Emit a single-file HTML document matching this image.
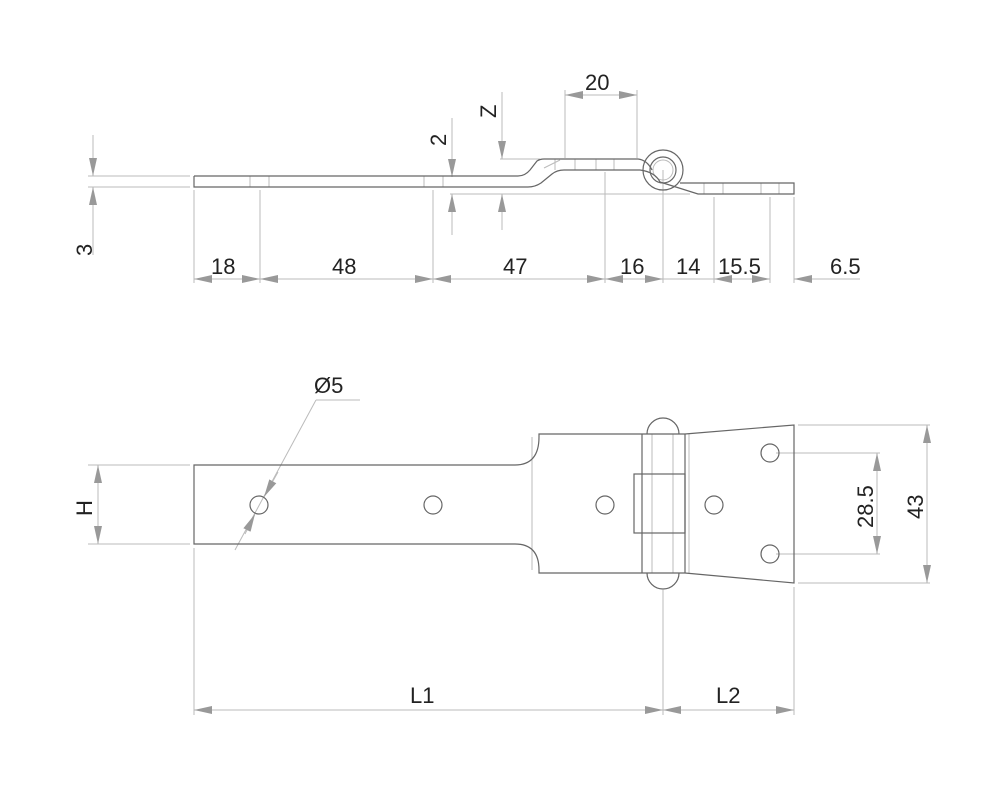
<!DOCTYPE html>
<html><head><style>body{margin:0;background:#fff}svg{display:block}text{font-family:"Liberation Sans",sans-serif;font-size:22px;fill:#222}</style></head><body>
<svg width="1000" height="786" viewBox="0 0 1000 786" xmlns="http://www.w3.org/2000/svg">
<defs>
<marker id="a" viewBox="0 0 18 8" refX="18" refY="4" markerWidth="18" markerHeight="8" markerUnits="userSpaceOnUse" orient="auto-start-reverse"><path d="M0,0L18,4L0,8z" fill="#999"/></marker>
</defs>
<g stroke="#bbb" stroke-width="1" fill="none">
<line x1="88" y1="176" x2="190" y2="176"/><line x1="88" y1="187" x2="190" y2="187"/>
<line x1="194" y1="190" x2="194" y2="283"/><line x1="260" y1="190" x2="260" y2="283"/>
<line x1="433" y1="190" x2="433" y2="283"/><line x1="605" y1="172" x2="605" y2="283"/>
<line x1="663" y1="170" x2="663" y2="283"/><line x1="714" y1="197" x2="714" y2="283"/>
<line x1="770" y1="197" x2="770" y2="283"/><line x1="794" y1="197" x2="794" y2="283"/>
<line x1="450" y1="194" x2="690" y2="194"/><line x1="500" y1="159" x2="540" y2="159"/>
<line x1="565" y1="90" x2="565" y2="158"/><line x1="637" y1="90" x2="637" y2="158"/>
<line x1="93" y1="135" x2="93" y2="176" marker-end="url(#a)"/>
<line x1="93" y1="255" x2="93" y2="187" marker-end="url(#a)"/>
<line x1="452" y1="118" x2="452" y2="177" marker-end="url(#a)"/>
<line x1="452" y1="235" x2="452" y2="194" marker-end="url(#a)"/>
<line x1="502" y1="92" x2="502" y2="159" marker-end="url(#a)"/>
<line x1="502" y1="230" x2="502" y2="194" marker-end="url(#a)"/>
<line x1="565" y1="95" x2="637" y2="95" marker-start="url(#a)" marker-end="url(#a)"/>
<line x1="194" y1="279" x2="260" y2="279" marker-start="url(#a)" marker-end="url(#a)"/>
<line x1="260" y1="279" x2="433" y2="279" marker-start="url(#a)" marker-end="url(#a)"/>
<line x1="433" y1="279" x2="605" y2="279" marker-start="url(#a)" marker-end="url(#a)"/>
<line x1="605" y1="279" x2="663" y2="279" marker-start="url(#a)" marker-end="url(#a)"/>
<line x1="663" y1="279" x2="714" y2="279"/>
<line x1="714" y1="279" x2="770" y2="279" marker-start="url(#a)" marker-end="url(#a)"/>
<line x1="860" y1="279" x2="794" y2="279" marker-end="url(#a)"/>
<line x1="250" y1="176" x2="250" y2="187"/><line x1="269" y1="176" x2="269" y2="187"/>
<line x1="424" y1="176" x2="424" y2="187"/><line x1="443" y1="176" x2="443" y2="187"/>
<line x1="596" y1="159" x2="596" y2="170"/><line x1="614" y1="159" x2="614" y2="170"/>
<line x1="555" y1="159" x2="555" y2="170"/><line x1="575" y1="159" x2="575" y2="170"/>
<line x1="704" y1="183" x2="704" y2="194"/><line x1="723" y1="183" x2="723" y2="194"/>
<line x1="761" y1="183" x2="761" y2="194"/><line x1="779" y1="183" x2="779" y2="194"/>
<line x1="544" y1="168" x2="560" y2="160"/>
<circle cx="663" cy="170" r="10"/>
<line x1="88" y1="465" x2="190" y2="465"/><line x1="88" y1="544" x2="190" y2="544"/>
<line x1="98" y1="465" x2="98" y2="544" marker-start="url(#a)" marker-end="url(#a)"/>
<line x1="235" y1="550" x2="316" y2="400"/><line x1="316" y1="400" x2="360" y2="400"/>
<line x1="245" y1="534" x2="255" y2="514" marker-end="url(#a)"/>
<line x1="278" y1="472" x2="264" y2="497" marker-end="url(#a)"/>
<line x1="798" y1="425" x2="930" y2="425"/><line x1="798" y1="583" x2="930" y2="583"/>
<line x1="776" y1="453" x2="880" y2="453"/><line x1="776" y1="554" x2="880" y2="554"/>
<line x1="877" y1="453" x2="877" y2="554" marker-start="url(#a)" marker-end="url(#a)"/>
<line x1="927" y1="425" x2="927" y2="583" marker-start="url(#a)" marker-end="url(#a)"/>
<line x1="194" y1="548" x2="194" y2="715"/><line x1="663" y1="590" x2="663" y2="715"/>
<line x1="794" y1="587" x2="794" y2="715"/>
<line x1="194" y1="710" x2="663" y2="710" marker-start="url(#a)" marker-end="url(#a)"/>
<line x1="663" y1="710" x2="794" y2="710" marker-start="url(#a)" marker-end="url(#a)"/>
<line x1="532" y1="437" x2="532" y2="570"/>
<line x1="652" y1="434" x2="652" y2="573"/><line x1="673" y1="434" x2="673" y2="573"/>
<line x1="689" y1="434" x2="689" y2="573"/>
</g>
<g stroke="#666" stroke-width="1.2" fill="none">
<path d="M194,176H518Q525,176 530,170L537,161Q540,159 544,159H638Q647,160 652,170"/>
<path d="M194,176V187H528Q535,187 541,183L552,174Q557,170 564,170H640Q655,172 660,182"/>
<path d="M680,183H794V194H698L660,182"/>
<circle cx="663" cy="170" r="20"/>
<circle cx="663" cy="170" r="13"/>
<path d="M194,465H515Q539,465 539,437V434H685L794,425V583L685,573H539V570Q539,544 515,544H194Z"/>
<line x1="642" y1="434" x2="642" y2="573"/><line x1="685" y1="434" x2="685" y2="573"/>
<path d="M647,434A16,16 0 0 1 679,434"/><path d="M647,573A16,16 0 0 0 679,573"/>
<rect x="634" y="474" width="51" height="59"/>
<circle cx="259" cy="505" r="9"/><circle cx="433" cy="505" r="9"/>
<circle cx="605" cy="505" r="9"/><circle cx="714" cy="505" r="9"/>
<circle cx="770" cy="453" r="9"/><circle cx="770" cy="554" r="9"/>
</g>
<text x="211" y="274">18</text><text x="332" y="274">48</text><text x="503" y="274">47</text>
<text x="620" y="274">16</text><text x="676" y="274">14</text><text x="718" y="274">15.5</text>
<text x="830" y="274">6.5</text><text x="585" y="90">20</text>
<text transform="translate(92,256) rotate(-90)">3</text>
<text transform="translate(446,146) rotate(-90)">2</text>
<text transform="translate(496,118) rotate(-90)">Z</text>
<text x="314" y="393">Ø5</text>
<text transform="translate(92,516) rotate(-90)">H</text>
<text transform="translate(873,528) rotate(-90)">28.5</text>
<text transform="translate(923,519) rotate(-90)">43</text>
<text x="410" y="703">L1</text><text x="716" y="703">L2</text>
</svg>
</body></html>
